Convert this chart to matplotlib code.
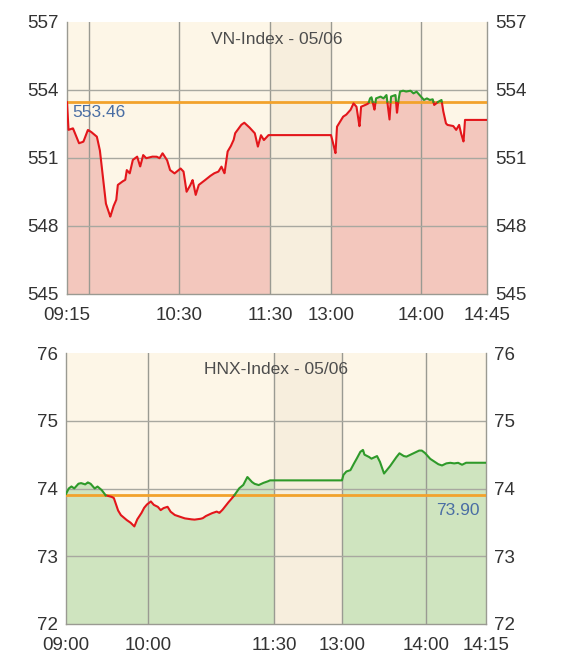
import matplotlib
matplotlib.use("Agg")
import matplotlib.pyplot as plt
import numpy as np

plt.rcParams['font.family'] = ['Liberation Sans', 'DejaVu Sans']

# ---- VN-Index data (time, value) ----
vn_times = ["09:15", "09:16", "09:19", "09:23", "09:26", "09:29", "09:31", "09:35", "09:37", "09:39",
            "09:41", "09:44", "09:46", "09:48", "09:49", "09:52", "09:54", "09:55", "09:57", "09:59",
            "10:02", "10:04", "10:06", "10:08", "10:12", "10:15", "10:17", "10:19", "10:22", "10:24",
            "10:27", "10:31", "10:33", "10:35", "10:37", "10:39", "10:41", "10:43", "10:46", "10:50",
            "10:53", "10:56", "10:58", "11:00", "11:02", "11:04", "11:06", "11:07", "11:11", "11:13",
            "11:16", "11:20", "11:22", "11:24", "11:26", "11:29", "11:30",
            "13:00", "13:02", "13:03", "13:04", "13:06", "13:08", "13:10", "13:13", "13:15", "13:17",
            "13:19", "13:20", "13:23", "13:25", "13:26", "13:27", "13:29", "13:30", "13:33", "13:35",
            "13:37", "13:39", "13:40", "13:43", "13:44", "13:45", "13:46", "13:48", "13:50", "13:53",
            "13:55", "13:57", "13:59", "14:02", "14:04", "14:06", "14:08", "14:09", "14:12", "14:14",
            "14:15", "14:17", "14:18", "14:22", "14:24", "14:26", "14:27", "14:29", "14:30", "14:45"]
vn_values = [553.46, 552.24, 552.31, 551.65, 551.72, 552.24, 552.16, 551.94, 551.35, 550.18,
             549.00, 548.41, 548.85, 549.15, 549.81, 549.96, 550.03, 550.47, 550.32, 550.91,
             551.06, 550.62, 551.13, 550.99, 551.06, 551.06, 550.99, 551.21, 550.91, 550.47,
             550.32, 550.54, 550.40, 549.51, 549.74, 550.03, 549.37, 549.81, 549.96, 550.18,
             550.32, 550.40, 550.62, 550.32, 551.28, 551.50, 551.79, 552.09, 552.46, 552.56,
             552.38, 552.09, 551.50, 552.01, 551.79, 552.01, 552.01,
             552.01, 551.50, 551.21, 552.38, 552.60, 552.82, 552.90, 553.12, 553.41, 553.26,
             552.38, 553.26, 553.34, 553.41, 553.63, 553.68, 553.12, 553.63, 553.71, 553.63,
             553.78, 552.68, 553.71, 553.78, 552.97, 553.56, 553.93, 553.97, 553.93, 553.97,
             553.85, 553.93, 553.78, 553.56, 553.63, 553.56, 553.59, 553.34, 553.49, 553.56,
             553.12, 552.53, 552.46, 552.41, 552.24, 552.46, 552.16, 551.72, 552.68, 552.68]
vn_ref = 553.46

# ---- HNX-Index data (time, value) ----
hnx_times = ["09:00", "09:02", "09:04", "09:06", "09:09", "09:11", "09:14", "09:16", "09:18", "09:21",
             "09:23", "09:26", "09:29", "09:33", "09:35", "09:38", "09:40", "09:44", "09:47", "09:50",
             "09:52", "09:55", "09:57", "09:59", "10:02", "10:04", "10:07", "10:09", "10:11", "10:14",
             "10:16", "10:19", "10:22", "10:26", "10:29", "10:33", "10:37", "10:39", "10:41", "10:45",
             "10:49", "10:51", "10:53", "10:56", "10:58", "11:01", "11:03", "11:05", "11:08", "11:10",
             "11:11", "11:14", "11:16", "11:19", "11:22", "11:25", "11:27", "11:30",
             "13:00", "13:01", "13:03", "13:06", "13:08", "13:10", "13:13", "13:15", "13:16", "13:19",
             "13:21", "13:25", "13:27", "13:30", "13:32", "13:34", "13:38", "13:41", "13:44", "13:46",
             "13:50", "13:52", "13:55", "13:57", "13:59", "14:01", "14:02", "14:03", "14:04", "14:05",
             "14:06", "14:07", "14:08", "14:09", "14:10", "14:15"]
hnx_values = [73.92, 74.00, 74.03, 74.00, 74.07, 74.08, 74.06, 74.09, 74.07, 74.00,
              74.03, 73.98, 73.90, 73.88, 73.86, 73.68, 73.61, 73.54, 73.50, 73.44,
              73.54, 73.63, 73.71, 73.76, 73.81, 73.76, 73.73, 73.68, 73.71, 73.73,
              73.66, 73.61, 73.59, 73.56, 73.55, 73.54, 73.55, 73.56, 73.59, 73.63,
              73.66, 73.64, 73.68, 73.76, 73.81, 73.88, 73.94, 74.00, 74.05, 74.13,
              74.17, 74.10, 74.07, 74.05, 74.08, 74.10, 74.12, 74.12,
              74.12, 74.20, 74.25, 74.27, 74.35, 74.42, 74.54, 74.57, 74.50, 74.47,
              74.44, 74.48, 74.40, 74.22, 74.27, 74.32, 74.44, 74.52, 74.48, 74.47,
              74.51, 74.53, 74.56, 74.56, 74.53, 74.44, 74.40, 74.36, 74.34, 74.37,
              74.38, 74.37, 74.38, 74.35, 74.38, 74.38]
hnx_ref = 73.90


def to_min(t):
    h, m = t.split(":")
    return int(h) * 60 + int(m)


def draw_panel(ax, times, values, ref, title, ticks, tick_pos, grid_extra, yticks, ref_label_pos):
    # broken time scale: clock minutes -> axis position (lunch compressed)
    brk = [to_min(t) for t in ticks]
    x = np.interp([to_min(t) for t in times], brk, tick_pos)
    v = np.array(values)
    lunch0, lunch1 = np.interp([to_min("11:30"), to_min("13:00")], brk, tick_pos)

    ax.set_facecolor("#fdf6e7")
    ax.set_xlim(tick_pos[0], tick_pos[-1])
    ax.set_ylim(yticks[0], yticks[-1])

    fill_col = "#f3c7bd" if values[-1] < ref else "#cfe4bf"
    am = x <= lunch0
    pm = x >= lunch1
    ax.fill_between(x[am], v[am], yticks[0], color=fill_col, lw=0, zorder=1)
    ax.fill_between(x[pm], v[pm], yticks[0], color=fill_col, lw=0, zorder=1)
    ax.axvspan(lunch0, lunch1, color="#f7eedd", lw=0, zorder=1.5)

    for gx in list(tick_pos[1:-1]) + grid_extra:
        ax.axvline(gx, color="#9a9a92", lw=1, zorder=2)
    for gy in yticks[1:-1]:
        ax.axhline(gy, color="#a8a8a0", lw=1, zorder=2)

    ax.axhline(ref, color="#f2a22c", lw=2, zorder=3)

    # line coloured by position against the reference
    xf = np.linspace(x[0], x[-1], 3000)
    vf = np.interp(xf, x, v)
    up = np.where(vf > ref, vf, np.nan)
    dn = np.where(vf <= ref, vf, np.nan)
    ax.plot(xf, dn, color="#e3161b", lw=1.5, zorder=4)
    ax.plot(xf, up, color="#2f9a2a", lw=1.5, zorder=4)

    ax.text(0.5, 0.965, title, transform=ax.transAxes, ha="center", va="top",
            fontsize=12.5, color="#4d4d4d")
    ax.text(ref_label_pos[0], ref_label_pos[1], f"{ref:.2f}", transform=ax.transAxes,
            ha=ref_label_pos[2], va="top", fontsize=12.5, color="#4a6ea4", zorder=5)

    ax.set_xticks(tick_pos)
    ax.set_xticklabels(ticks)
    ax.set_yticks(yticks)
    ax.set_yticklabels([str(t) for t in yticks])
    ax.tick_params(axis="both", length=0, labelsize=13.5, colors="#333333",
                   left=True, right=True, labelleft=True, labelright=True)
    ax.tick_params(axis="x", pad=9)
    ax.tick_params(axis="y", pad=6)
    for s in ax.spines.values():
        s.set_color("#9a9a92")
        s.set_linewidth(1)
    ax.spines["top"].set_visible(False)


fig = plt.figure(figsize=(5.68, 6.68), dpi=100)
ax1 = fig.add_axes([67 / 568, 1 - 294 / 668, 420 / 568, 272 / 668])
ax2 = fig.add_axes([66 / 568, 1 - 624 / 668, 420 / 568, 271 / 668])

draw_panel(ax1, vn_times, vn_values, vn_ref, "VN-Index - 05/06",
           ["09:15", "10:30", "11:30", "13:00", "14:00", "14:45"],
           [0, 112, 203, 264, 354, 420], [22.4],
           [545, 548, 551, 554, 557], (0.012, 0.695, "left"))
draw_panel(ax2, hnx_times, hnx_values, hnx_ref, "HNX-Index - 05/06",
           ["09:00", "10:00", "11:30", "13:00", "14:00", "14:15"],
           [0, 82, 208, 276, 360, 420], [],
           [72, 73, 74, 75, 76], (0.985, 0.445, "right"))

fig.savefig("out.png", dpi=100, facecolor="white")
